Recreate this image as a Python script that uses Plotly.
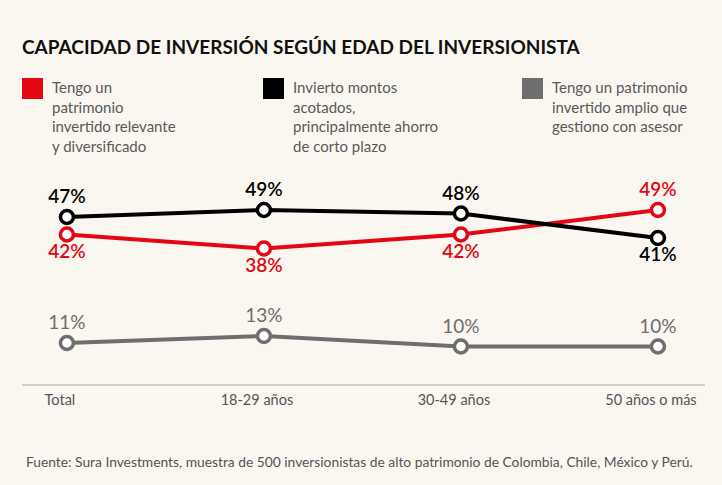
import plotly.graph_objects as go

categories = ["Total", "18-29 años", "30-49 años", "50 años o más"]
relevante = [42, 38, 42, 49]
acotados = [47, 49, 48, 41]
amplio = [11, 13, 10, 10]

series_names = [
    "Tengo un<br>patrimonio<br>invertido relevante<br>y diversificado",
    "Invierto montos<br>acotados,<br>principalmente ahorro<br>de corto plazo",
    "Tengo un patrimonio<br>invertido amplio que<br>gestiono con asesor",
]
colors = ["#e30613", "#000000", "#6e6e6e"]
title = "CAPACIDAD DE INVERSIÓN SEGÚN EDAD DEL INVERSIONISTA"
source = "Fuente: Sura Investments, muestra de 500 inversionistas de alto patrimonio de Colombia, Chile, México y Perú."

BG = "#faf7f1"
FONT = "Lato"

fig = go.Figure()


def add_series(values, color, positions, weight, name):
    fig.add_trace(go.Scatter(
        x=categories, y=values, name=name.replace("<br>", " "),
        mode="lines+markers+text",
        line=dict(color=color, width=4),
        marker=dict(symbol="circle", size=13, color="white",
                    line=dict(color=color, width=3.5)),
        text=[f"{v}%" for v in values],
        textposition=positions,
        textfont=dict(family=FONT, size=19, color=color, weight=weight),
        cliponaxis=False,
        showlegend=False,
        hoverinfo="skip",
    ))


add_series(amplio, colors[2], ["top center"] * 4, 400, series_names[2])
add_series(relevante, colors[0],
           ["bottom center", "bottom center", "bottom center", "top center"], 600, series_names[0])
add_series(acotados, colors[1],
           ["top center", "top center", "top center", "bottom center"], 600, series_names[1])

# Custom legend (squares + text)
legend_x = [22, 263, 522]
for name, color, lx in zip(series_names, colors, legend_x):
    fig.add_shape(type="rect", xref="paper", yref="paper",
                  x0=(lx - 22) / 683, x1=(lx - 1) / 683,
                  y0=(385 - 99) / 220, y1=(385 - 78) / 220,
                  fillcolor=color, line=dict(width=0))
    fig.add_annotation(xref="paper", yref="paper",
                       x=(lx + 6) / 683, y=(385 - 76) / 220,
                       xanchor="left", yanchor="top", align="left",
                       text=name, showarrow=False,
                       font=dict(family=FONT, size=15, color="#5a5a5a"))

# baseline
fig.add_shape(type="line", xref="paper", yref="paper", x0=0, x1=1, y0=0, y1=0,
              line=dict(color="#a9a6a0", width=1.2), layer="below")

fig.add_annotation(xref="paper", yref="paper", x=(695 - 22) / 683, y=-(461 - 385) / 220,
                   xanchor="right", yanchor="middle", text=source, showarrow=False,
                   font=dict(family=FONT, size=13.8, color="#555555"))

fig.update_layout(
    width=722, height=485,
    paper_bgcolor=BG, plot_bgcolor=BG,
    margin=dict(l=22, r=17, t=165, b=100, pad=0),
    title=dict(text=f"<b>{title}</b>", x=22 / 722, xanchor="left",
               y=1 - 47 / 485, yanchor="middle",
               font=dict(family=FONT, size=19, color="#111111")),
    xaxis=dict(type="category", range=[-0.228, 3.239], showgrid=False,
               showline=False, ticks="",
               tickfont=dict(family=FONT, size=14.5, color="#555555"),
               ticklabelshift=-7, ticklabelstandoff=4, zeroline=False),
    yaxis=dict(range=[-1, 61.86], visible=False, showgrid=False, zeroline=False),
    font=dict(family=FONT),
)

fig.write_html("out.html", config={"displayModeBar": False},
               post_script="document.body.style.margin='0';")
